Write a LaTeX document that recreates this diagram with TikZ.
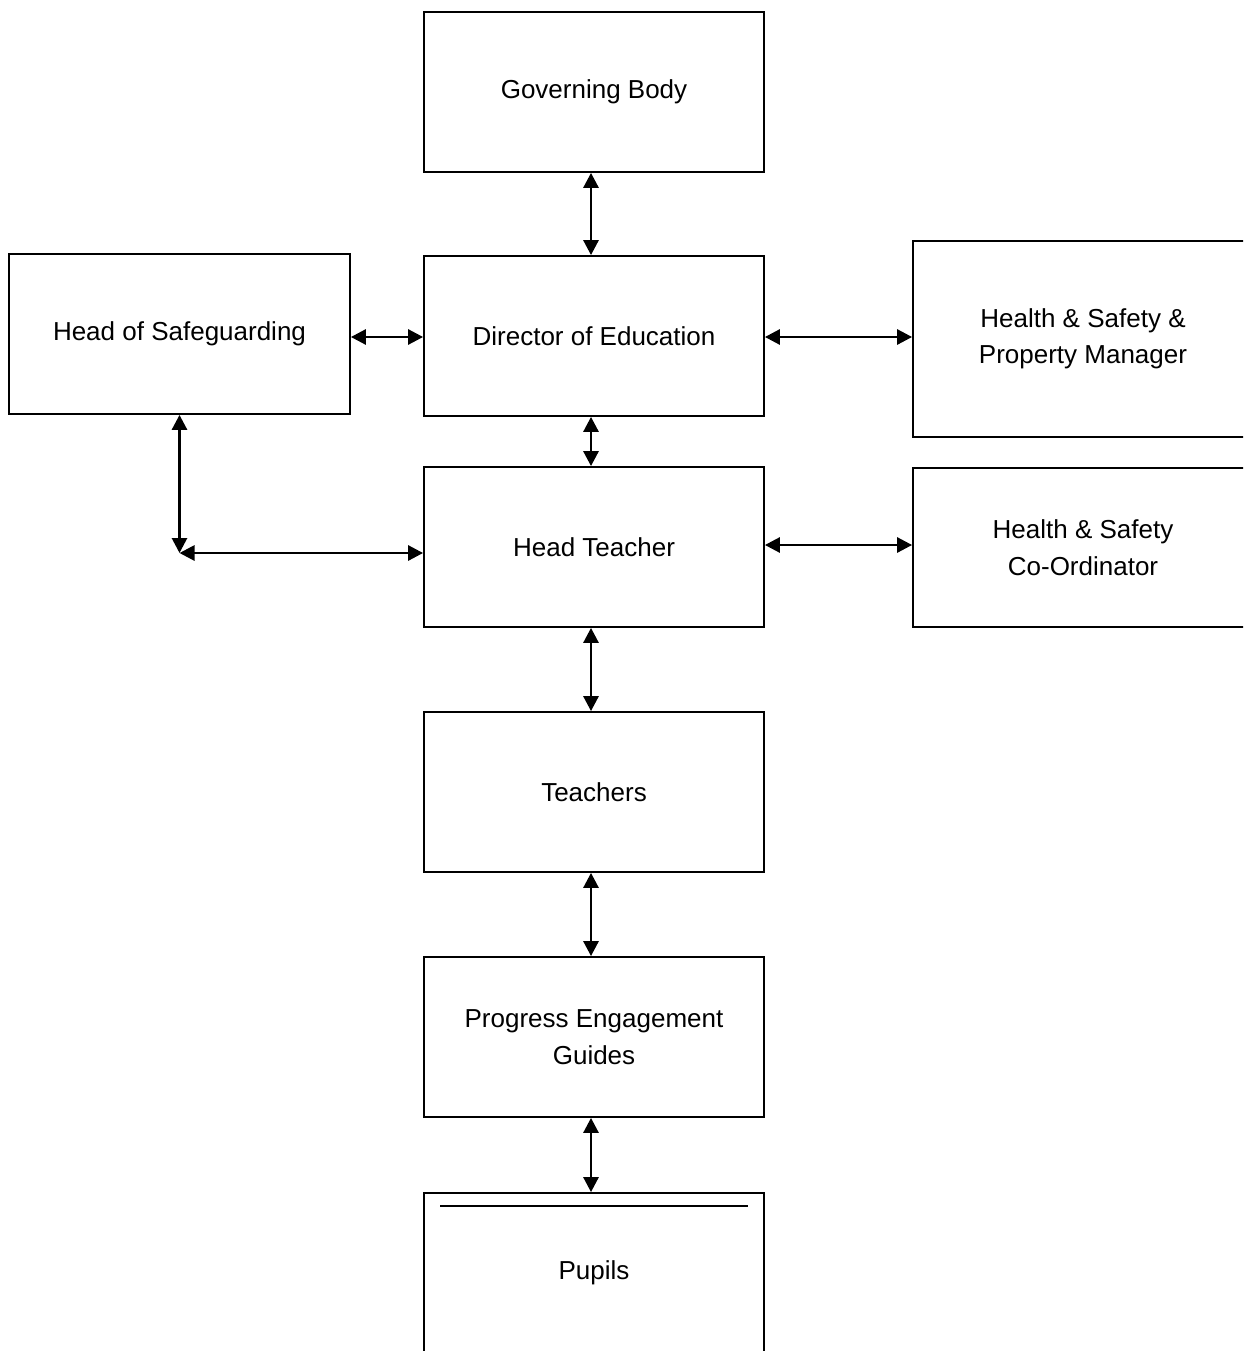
\documentclass[tikz,border=0pt]{standalone}
\usepackage{fontspec}
\setmainfont{Liberation Sans}
\usepackage{tikz}
\usetikzlibrary{arrows.meta}

\begin{document}
\begin{tikzpicture}[x=1pt, y=-1pt,
    box/.style={draw, line width=1.8pt, minimum width=340pt, minimum height=160pt,
      align=center, font=\fontsize{26}{36.5}\selectfont, inner sep=0pt},
    link/.style={line width=2.8pt, {Triangle[length=15pt,width=15pt]}-{Triangle[length=15pt,width=15pt]}}]
    \useasboundingbox (0,0) rectangle (1243,1351);
    \clip (0,0) rectangle (1243,1351);
    \node[box] (GB) at (594, 92){Governing Body};
    \node[box] (DE) at (594, 336){Director of Education};
    \node[box, minimum width=341pt] (HS) at (179.5, 334){Head of Safeguarding};
    \node[box, minimum height=196pt] (PM) at (1083, 339){Health \& Safety \&\\Property Manager};
    \node[box] (HT) at (594, 547){Head Teacher};
    \node[box, minimum height=159pt] (CO) at (1083, 547.5){Health \& Safety\\Co-Ordinator};
    \node[box] (TE) at (594, 792){Teachers};
    \node[box] (PG) at (594, 1037){Progress Engagement\\Guides};
    \node[box] (PU) at (594, 1273){Pupils};
    \coordinate (bend) at (179.5, 553);
    \draw[line width=2.6pt] (440, 1206) -- (748, 1206);
    \draw[link] ([xshift=-3pt]GB.south) -- ([xshift=-3pt]DE.north);
    \draw[link] ([yshift=-3pt]HS.east) -- ([yshift=-3pt]HS.east -| DE.west);
    \draw[link] ([yshift=-1pt]DE.east) -- ([yshift=-1pt]DE.east -| PM.west);
    \draw[link] ([xshift=-3pt]DE.south) -- ([xshift=-3pt]HT.north);
    \draw[link] (HS.south) -- (bend);
    \draw[link] (bend) -- (bend -| HT.west);
    \draw[link] ([yshift=2pt]HT.east) -- ([yshift=2pt]HT.east -| CO.west);
    \draw[link] ([xshift=-3pt]HT.south) -- ([xshift=-3pt]TE.north);
    \draw[link] ([xshift=-3pt]TE.south) -- ([xshift=-3pt]PG.north);
    \draw[link] ([xshift=-3pt]PG.south) -- ([xshift=-3pt]PU.north);
  \end{tikzpicture}
\end{document}
